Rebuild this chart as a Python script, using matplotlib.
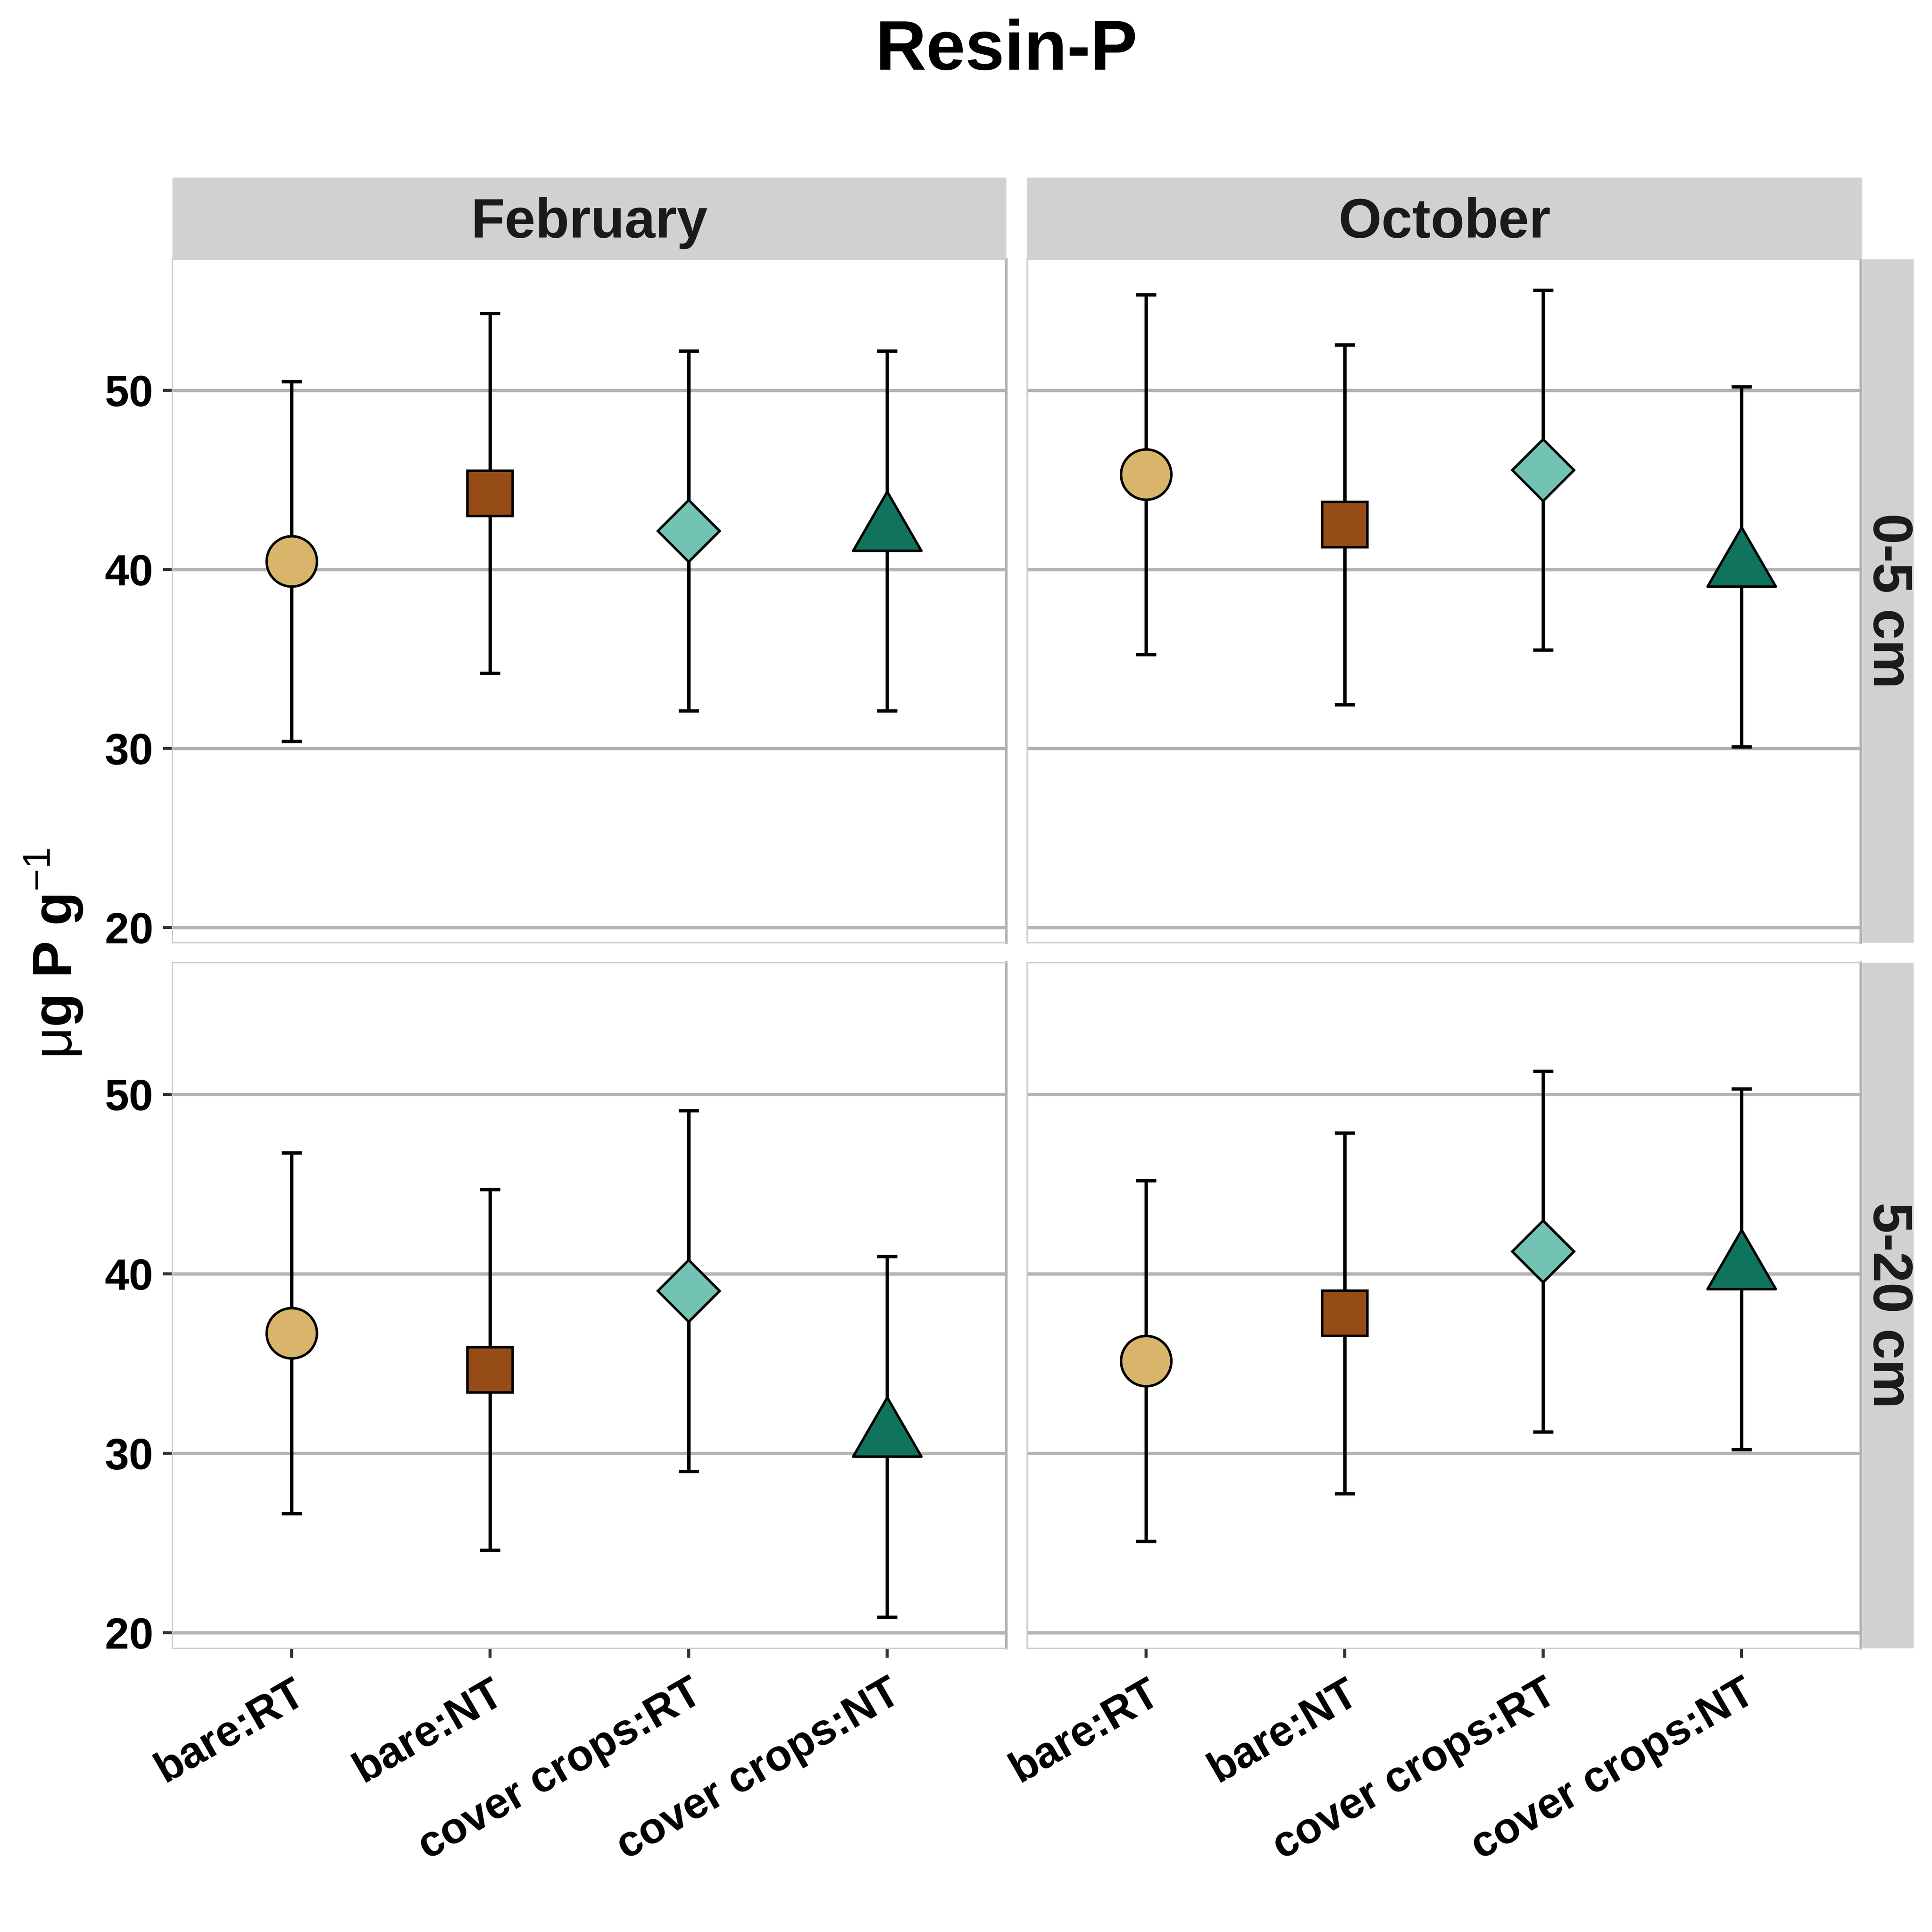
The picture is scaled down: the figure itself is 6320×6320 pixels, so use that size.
import matplotlib
matplotlib.use("Agg")
import matplotlib.pyplot as plt
from matplotlib.path import Path

plt.rcParams['font.family'] = ['Liberation Sans', 'DejaVu Sans']
plt.rcParams['font.weight'] = 'bold'
plt.rcParams['mathtext.fontset'] = 'custom'
plt.rcParams['mathtext.rm'] = 'Liberation Sans:normal'

# data (mean and error half-width, ug P / g)
treatments = ["bare:RT", "bare:NT", "cover crops:RT", "cover crops:NT"]
months = ["February", "October"]
depths = ["0-5 cm", "5-20 cm"]

feb_0_5 = [40.45, 44.25, 42.15, 42.15]
oct_0_5 = [45.30, 42.50, 45.55, 40.15]
feb_5_20 = [36.70, 34.65, 39.05, 30.93]
oct_5_20 = [35.15, 37.80, 41.25, 40.25]

err_feb_0_5 = [10.05, 10.05, 10.05, 10.05]
err_oct_0_5 = [10.05, 10.05, 10.05, 10.05]
err_feb_5_20 = [10.05, 10.05, 10.05, 10.05]
err_oct_5_20 = [10.05, 10.05, 10.05, 10.05]

means = {("February", "0-5 cm"): feb_0_5, ("October", "0-5 cm"): oct_0_5,
         ("February", "5-20 cm"): feb_5_20, ("October", "5-20 cm"): oct_5_20}
errs = {("February", "0-5 cm"): err_feb_0_5, ("October", "0-5 cm"): err_oct_0_5,
        ("February", "5-20 cm"): err_feb_5_20, ("October", "5-20 cm"): err_oct_5_20}

y_ticks = [20, 30, 40, 50]
y_minor = [25, 35, 45, 55]

# R style filled triangle, centred on its centroid
tri = Path([(0, 1), (0.866, -0.5), (-0.866, -0.5), (0, 1)],
           [Path.MOVETO, Path.LINETO, Path.LINETO, Path.CLOSEPOLY])
markers = ['o', 's', 'D', tri]
msizes = [30, 27, 26, 47]
fills = ['#D8B56A', '#954C16', '#72C3B3', '#0F735E']

# shared y range, ggplot style 5% expansion
lows = [m - e for k in means for m, e in zip(means[k], errs[k])]
highs = [m + e for k in means for m, e in zip(means[k], errs[k])]
span = max(highs) - min(lows)
ylim = (min(lows) - 0.05 * span, max(highs) + 0.05 * span)

fig = plt.figure(figsize=(16, 16), dpi=395)

col_x = [(0.0892, 0.5209), (0.5316, 0.9631)]
row_y = [(0.5120, 0.8659), (0.1469, 0.5017)]
strip_grey = '#D1D1D1'
strip_txt = '#1A1A1A'

xs = list(range(1, len(treatments) + 1))

for r, depth in enumerate(depths):
    for c, month in enumerate(months):
        x0, x1 = col_x[c]
        y0, y1 = row_y[r]
        ax = fig.add_axes([x0, y0, x1 - x0, y1 - y0])
        m = means[(month, depth)]
        e = errs[(month, depth)]
        for i in range(len(treatments)):
            ax.errorbar(xs[i], m[i], yerr=e[i], fmt='none', ecolor='black',
                        elinewidth=2, capsize=6, capthick=2, zorder=3)
            ax.plot(xs[i], m[i], marker=markers[i], ms=msizes[i], mfc=fills[i],
                    mec='black', mew=1.5, ls='none', zorder=4)
        ax.set_xlim(0.4, len(treatments) + 0.6)
        ax.set_ylim(*ylim)
        ax.set_yticks(y_ticks)
        ax.set_yticks(y_minor, minor=True)
        ax.set_xticks(xs)
        ax.set_axisbelow(True)
        ax.yaxis.grid(True, which='major', color='#B3B3B3', lw=2)
        for side in ['left', 'top', 'bottom']:
            ax.spines[side].set_color('#CCCCCC')
            ax.spines[side].set_linewidth(0.8)
        ax.spines['right'].set_color('#B3B3B3')
        ax.spines['right'].set_linewidth(1.5)

        ax.tick_params(which='major', length=5.7, width=1.8, color='#333333',
                       pad=5.6, labelsize=26, labelcolor='black')
        ax.tick_params(axis='y', which='minor', left=True, length=1.5,
                       width=1.5, color='white', direction='inout')
        ax.tick_params(axis='x', which='minor', bottom=False)
        if c == 0:
            ax.set_yticklabels([str(t) for t in y_ticks], fontweight='bold')
        else:
            ax.tick_params(axis='y', which='major', left=False, labelleft=False)
        if r == len(depths) - 1:
            ax.set_xticklabels(treatments, rotation=30, ha='right', va='top',
                               rotation_mode='anchor', fontweight='bold')
            ax.tick_params(axis='x', pad=9)
        else:
            ax.tick_params(axis='x', bottom=False, labelbottom=False)

        # column strip
        if r == 0:
            right = x1 if c == 0 else 0.9639
            sax = fig.add_axes([x0, y1, right - x0, 0.0422])
            sax.set_facecolor(strip_grey)
            sax.set_xticks([])
            sax.set_yticks([])
            for s in sax.spines.values():
                s.set_visible(False)
            sax.text(0.5, 0.44, month, ha='center', va='center', fontsize=33,
                     color=strip_txt, fontweight='bold', transform=sax.transAxes)

    # row strip
    y0, y1 = row_y[r]
    rax = fig.add_axes([0.9639, y0, 0.0266, y1 - y0])
    rax.set_facecolor(strip_grey)
    rax.set_xticks([])
    rax.set_yticks([])
    for s in rax.spines.values():
        s.set_visible(False)
    rax.text(0.5, 0.5, depth, ha='center', va='center', fontsize=33,
             rotation=-90, color=strip_txt, fontweight='bold',
             transform=rax.transAxes)

fig.text(0.521, 0.964, "Resin-P", ha='center', va='baseline', fontsize=42,
         fontweight='bold')
fig.text(0.0277, (0.1469 + 0.8659) / 2, r"$\mathrm{μ}$g P g$^{\mathrm{-1}}$",
         rotation=90, ha='center', va='center', fontsize=33, fontweight='bold')

fig.savefig("out.png", dpi=395)
